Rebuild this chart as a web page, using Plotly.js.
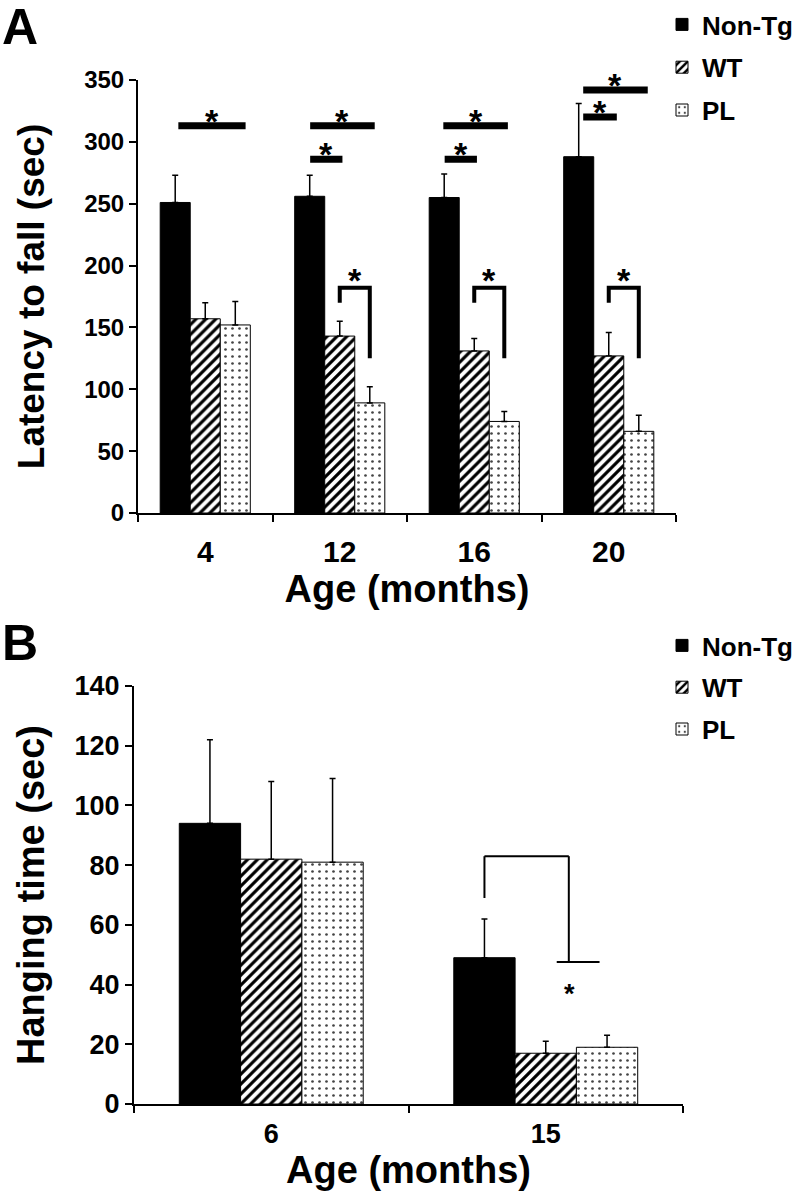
<!DOCTYPE html>
<html>
<head>
<meta charset="utf-8">
<script src="https://cdn.plot.ly/plotly-3.0.1.min.js"></script>
<style>html,body{margin:0;padding:0;background:#fff;}#chart{width:799px;height:1199px;}</style>
</head>
<body>
<div id="chart"></div>
<script>
// ---------- Panel A data (Latency to fall) ----------
const agesA = ['4', '12', '16', '20'];
const nonTgA = [251, 256, 255, 288];
const nonTgAErr = [22, 17, 19, 43];
const wtA = [157, 143, 131, 127];
const wtAErr = [13, 12, 10, 19];
const plA = [152, 89, 74, 66];
const plAErr = [19, 13, 8, 13];

// ---------- Panel B data (Hanging time) ----------
const agesB = ['6', '15'];
const nonTgB = [94, 49];
const nonTgBErr = [28, 13];
const wtB = [82, 17];
const wtBErr = [26, 4];
const plB = [81, 19];
const plBErr = [28, 4];

const seriesNames = ['Non-Tg', 'WT', 'PL'];

const FONT = 'Liberation Sans, Arial, sans-serif';

const idxA = agesA.map((_, i) => i);
const idxB = agesB.map((_, i) => i);

function zeros(a) { return a.map(() => 0); }

function barTrace(name, x, y, err, xa, ya, legend, group, style) {
  return {
    type: 'bar', name: name, x: x, y: y, xaxis: xa, yaxis: ya, legend: legend,
    legendgroup: group, showlegend: true,
    error_y: {type: 'data', symmetric: false, array: err, arrayminus: zeros(err),
              color: '#000', thickness: 1.5, width: 3},
    marker: style
  };
}
const styleNon = {color: '#000', line: {color: '#000', width: 1}};
const styleWT = {color: '#fff', line: {color: '#000', width: 1},
  pattern: {shape: '/', size: 7, solidity: 0.45, fgcolor: '#000', bgcolor: '#fff', fillmode: 'replace'}};
const stylePL = {color: '#fff', line: {color: '#000', width: 1},
  pattern: {shape: '.', size: 7, solidity: 0.12, fgcolor: '#444', bgcolor: '#fff', fillmode: 'replace'}};

const data = [
  barTrace(seriesNames[0], idxA, nonTgA, nonTgAErr, 'x', 'y', 'legend', 'a1', styleNon),
  barTrace(seriesNames[1], idxA, wtA, wtAErr, 'x', 'y', 'legend', 'a2', styleWT),
  barTrace(seriesNames[2], idxA, plA, plAErr, 'x', 'y', 'legend', 'a3', stylePL),
  barTrace(seriesNames[0], idxB, nonTgB, nonTgBErr, 'x2', 'y2', 'legend2', 'b1', styleNon),
  barTrace(seriesNames[1], idxB, wtB, wtBErr, 'x2', 'y2', 'legend2', 'b2', styleWT),
  barTrace(seriesNames[2], idxB, plB, plBErr, 'x2', 'y2', 'legend2', 'b3', stylePL)
];

const BARGAP = 0.33;
const bw = (1 - BARGAP) / 3; // width of one bar in category units

// ---------- significance marks ----------
const shapes = [];
const annotations = [];
function hline(xref, yref, x0, x1, y, w) {
  shapes.push({type: 'line', xref: xref, yref: yref, x0: x0, x1: x1, y0: y, y1: y,
               line: {color: '#000', width: w}});
}
function vline(xref, yref, x, y0, y1, w) {
  shapes.push({type: 'line', xref: xref, yref: yref, x0: x, x1: x, y0: y0, y1: y1,
               line: {color: '#000', width: w}});
}
function star(xref, yref, x, y, size, yshift) {
  annotations.push({xref: xref, yref: yref, x: x, y: y, text: '*', showarrow: false,
    yanchor: 'middle', xanchor: 'center', yshift: yshift,
    font: {family: FONT, size: size, color: '#000', weight: 700}});
}
// Panel A horizontal bars: [group, y, x0 offset, x1 offset]
const sigLinesA = [
  [0, 313, -0.20, 0.30],
  [1, 313, -0.22, 0.26], [1, 286, -0.22, 0.02],
  [2, 313, -0.23, 0.25], [2, 286, -0.22, 0.02],
  [3, 342, -0.19, 0.29], [3, 320, -0.19, 0.06]
];
sigLinesA.forEach(([g, y, a, b]) => {
  hline('x', 'y', g + a, g + b, y, 7);
  star('x', 'y', g + (a + b) / 2, y, 34, 5);
});
// Panel A brackets between WT and PL (groups 12, 16, 20)
[1, 2, 3].forEach(g => {
  const xl = g, xr = g + bw, top = 182;
  shapes.push({type: 'path', xref: 'x', yref: 'y',
    path: `M${xl},170 L${xl},${top} L${xr},${top} L${xr},125`,
    line: {color: '#000', width: 4}});
  star('x', 'y', (xl + xr) / 2, top, 34, 8);
});
// Panel B bracket
vline('x2', 'y2', 1 - bw, 69, 83, 2);
hline('x2', 'y2', 1 - bw, 1.084, 83, 2);
vline('x2', 'y2', 1.084, 83, 47.6, 2);
hline('x2', 'y2', 1.04, 1.196, 47.6, 2);
star('x2', 'y2', 1.087, 37, 27, 0);

// Panel letters
annotations.push({xref: 'paper', yref: 'paper', x: 0.0, y: 1.0, xanchor: 'left', yanchor: 'top', yshift: 3,
  text: 'A', showarrow: false, font: {family: FONT, size: 50, color: '#000', weight: 700}});
annotations.push({xref: 'paper', yref: 'paper', x: 0.0, y: 1 - 618 / 1199, xanchor: 'left', yanchor: 'top', yshift: 5,
  text: 'B', showarrow: false, font: {family: FONT, size: 50, color: '#000', weight: 700}});

const axisCommon = {showgrid: false, zeroline: false, showline: true, linecolor: '#000', linewidth: 2,
  fixedrange: true, automargin: false};

const layout = {
  width: 799, height: 1199,
  margin: {l: 0, r: 0, t: 0, b: 0, autoexpand: false},
  paper_bgcolor: '#fff', plot_bgcolor: '#fff',
  barmode: 'group', bargap: BARGAP, bargroupgap: 0,
  showlegend: true,
  xaxis: Object.assign({}, axisCommon, {
    domain: [138 / 799, 676 / 799], range: [-0.5, agesA.length - 0.5],
    tickmode: 'array', tickvals: idxA, ticktext: agesA, ticks: '',
    ticklabelstandoff: 11,
    minor: {tickmode: 'array', tickvals: [-0.5, 0.5, 1.5, 2.5, 3.5], ticks: 'outside', ticklen: 7, tickwidth: 2, tickcolor: '#000'},
    tickfont: {family: FONT, size: 30, color: '#000', weight: 700},
    title: {text: 'Age (months)', standoff: 6, font: {family: FONT, size: 38, color: '#000', weight: 700}},
    anchor: 'y'
  }),
  yaxis: Object.assign({}, axisCommon, {
    domain: [1 - 513 / 1199, 1 - 80 / 1199], range: [0, 350], dtick: 50,
    ticks: 'outside', ticklen: 7, tickwidth: 2, tickcolor: '#000',
    tickfont: {family: FONT, size: 24, color: '#000', weight: 700},
    title: {text: 'Latency to fall (sec)', standoff: 28, font: {family: FONT, size: 37, color: '#000', weight: 700}},
    anchor: 'x'
  }),
  xaxis2: Object.assign({}, axisCommon, {
    domain: [134 / 799, 683 / 799], range: [-0.5, agesB.length - 0.5],
    tickmode: 'array', tickvals: idxB, ticktext: agesB, ticks: '',
    ticklabelstandoff: 5,
    minor: {tickmode: 'array', tickvals: [-0.5, 0.5, 1.5], ticks: 'outside', ticklen: 7, tickwidth: 2, tickcolor: '#000'},
    tickfont: {family: FONT, size: 27, color: '#000', weight: 700},
    title: {text: 'Age (months)', standoff: 4, font: {family: FONT, size: 38, color: '#000', weight: 700}},
    anchor: 'y2'
  }),
  yaxis2: Object.assign({}, axisCommon, {
    domain: [1 - 1104 / 1199, 1 - 686 / 1199], range: [0, 140], dtick: 20,
    ticks: 'outside', ticklen: 7, tickwidth: 2, tickcolor: '#000',
    tickfont: {family: FONT, size: 27, color: '#000', weight: 700},
    title: {text: 'Hanging time (sec)', standoff: 18, font: {family: FONT, size: 38, color: '#000', weight: 700}},
    anchor: 'x2'
  }),
  legend: {x: 662 / 799, y: 1 - 1 / 1199, xanchor: 'left', yanchor: 'top', bgcolor: 'rgba(0,0,0,0)',
    font: {family: FONT, size: 26, color: '#000', weight: 700}, itemwidth: 30, tracegroupgap: 6,
    traceorder: 'grouped'},
  legend2: {x: 662 / 799, y: 1 - 622 / 1199, xanchor: 'left', yanchor: 'top', bgcolor: 'rgba(0,0,0,0)',
    font: {family: FONT, size: 26, color: '#000', weight: 700}, itemwidth: 30, tracegroupgap: 5,
    traceorder: 'grouped'},
  shapes: shapes,
  annotations: annotations
};

Plotly.newPlot('chart', data, layout, {displayModeBar: false, staticPlot: true});
</script>
</body>
</html>
